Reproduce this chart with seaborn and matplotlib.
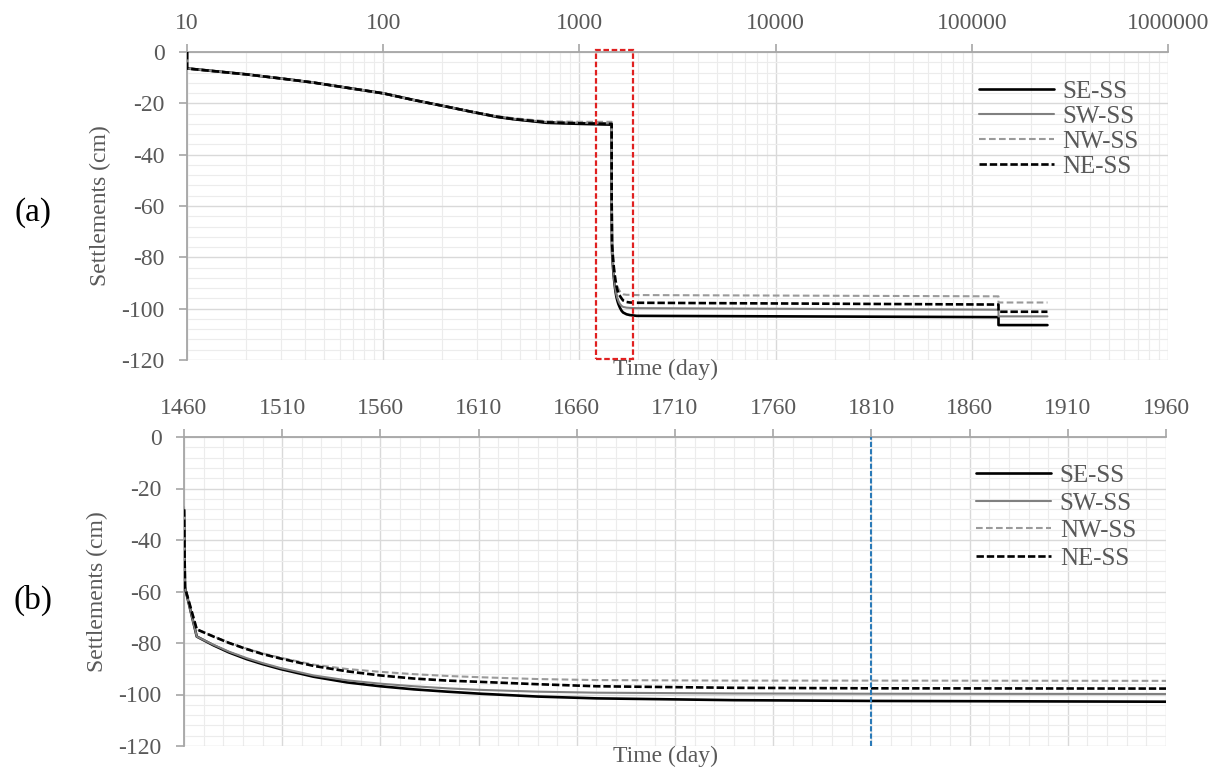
import numpy as np
import pandas as pd
import seaborn as sns
import matplotlib
matplotlib.use("Agg")
import matplotlib.pyplot as plt
from matplotlib.ticker import FixedLocator, MultipleLocator, LogLocator, NullFormatter
from matplotlib.patches import Rectangle

# Settlement histories of the four monitoring points (cm) against time (day)
days = [10, 10, 20, 30, 44, 65, 100, 143, 211, 278, 380, 462, 684, 1000, 1460,
        1460.5, 1466.5, 1475, 1483, 1492, 1500, 1509, 1526, 1543, 1560, 1577, 1594,
        1611, 1640, 1670, 1740, 1810, 1960, 136800, 136800, 243000]
se_ss = [0, -6.4, -8.7, -10.3, -11.9, -13.9, -16.1, -18.7, -21.3, -23.2, -25.3, -26.2, -27.6, -28.0, -28.3,
         -58.5, -77.5, -80.9, -83.7, -86.3, -88.2, -90.1, -93.1, -95.3, -96.8, -98.0, -98.9,
         -99.7, -100.8, -101.5, -102.2, -102.5, -102.8, -103.3, -106.4, -106.4]
sw_ss = [0, -6.4, -8.7, -10.3, -11.9, -13.9, -16.1, -18.7, -21.3, -23.2, -25.1, -26.0, -27.3, -27.6, -27.8,
         -58.5, -77.5, -80.7, -83.4, -85.9, -87.8, -89.7, -92.6, -94.5, -95.8, -96.8, -97.6,
         -98.2, -98.9, -99.3, -99.6, -99.7, -99.8, -100.4, -103.0, -103.0]
nw_ss = [0, -6.4, -8.7, -10.3, -11.9, -13.9, -16.1, -18.7, -21.3, -23.2, -25.0, -25.8, -27.0, -27.2, -27.2,
         -58.5, -74.7, -77.4, -79.9, -82.2, -84.0, -85.7, -88.4, -90.1, -91.2, -92.1, -92.8,
         -93.3, -94.0, -94.4, -94.6, -94.6, -94.7, -95.2, -97.6, -97.6]
ne_ss = [0, -6.4, -8.7, -10.3, -11.9, -13.9, -16.1, -18.7, -21.3, -23.2, -25.2, -26.1, -27.4, -27.8, -28.0,
         -58.5, -74.7, -77.5, -80.0, -82.4, -84.3, -86.0, -88.9, -91.0, -92.6, -93.8, -94.6,
         -95.1, -96.0, -96.8, -97.4, -97.6, -97.7, -98.4, -101.2, -101.2]

series_names = ["SE-SS", "SW-SS", "NW-SS", "NE-SS"]
series_values = [se_ss, sw_ss, nw_ss, ne_ss]

log_ticks = [10, 100, 1000, 10000, 100000, 1000000]
log_tick_labels = ["10", "100", "1000", "10000", "100000", "1000000"]
lin_ticks = list(range(1460, 1961, 50))
y_ticks = list(range(-120, 1, 20))

highlight_span = (1216, 1880)   # time window enlarged in panel (b)
marker_day = 1810

styles = {
    "SE-SS": dict(color="black", linewidth=1.9, linestyle="-"),
    "SW-SS": dict(color="#808080", linewidth=1.5, linestyle="-"),
    "NW-SS": dict(color="#9a9a9a", linewidth=1.5, linestyle=(0, (3.2, 1.6))),
    "NE-SS": dict(color="black", linewidth=1.9, linestyle=(0, (2.8, 1.1))),
}

sns.set_theme(style="white")
plt.rcParams["font.family"] = ["Liberation Serif", "DejaVu Serif"]

TXT = "#595959"
SPINE = "#a6a6a6"
FS = 17

df = pd.DataFrame({"day": np.tile(days, len(series_names)),
                   "settlement": np.concatenate(series_values),
                   "series": np.repeat(series_names, len(days))})

fig = plt.figure(figsize=(12.25, 7.74), dpi=100)
ax1 = fig.add_axes([187 / 1225, 1 - 360 / 774, 981 / 1225, 308 / 774])
ax2 = fig.add_axes([184 / 1225, 1 - 746 / 774, 982 / 1225, 309 / 774])

for ax in (ax1, ax2):
    for name in series_names:
        sub = df[df["series"] == name]
        sns.lineplot(data=sub, x="day", y="settlement", ax=ax, estimator=None,
                     sort=False, label=name, zorder=3, **styles[name])

# Panel (a): logarithmic time axis
ax1.set_xscale("log")
ax1.set_xlim(10, 1000000)
ax1.xaxis.set_major_locator(FixedLocator(log_ticks))
ax1.set_xticklabels(log_tick_labels)
ax1.xaxis.set_minor_locator(LogLocator(base=10, subs=np.arange(2, 10)))
ax1.xaxis.set_minor_formatter(NullFormatter())

# Panel (b): linear time axis
ax2.set_xlim(1460, 1960)
ax2.xaxis.set_major_locator(FixedLocator(lin_ticks))
ax2.set_xticklabels([str(t) for t in lin_ticks])
ax2.xaxis.set_minor_locator(MultipleLocator(10))

for ax in (ax1, ax2):
    ax.set_ylim(-120, 0)
    ax.yaxis.set_major_locator(FixedLocator(y_ticks))
    ax.set_yticklabels([str(t) for t in y_ticks])
    ax.yaxis.set_minor_locator(MultipleLocator(4))
    ax.xaxis.tick_top()
    ax.xaxis.set_label_position("bottom")
    ax.grid(which="major", color="#d9d9d9", linewidth=1.0)
    ax.grid(which="minor", color="#ececec", linewidth=0.8)
    ax.set_axisbelow(True)
    for side in ("right", "bottom"):
        ax.spines[side].set_visible(False)
    for side in ("top", "left"):
        ax.spines[side].set_color(SPINE)
        ax.spines[side].set_linewidth(1.3)
    ax.tick_params(axis="both", which="major", colors=SPINE, labelcolor=TXT,
                   labelsize=FS, length=6, width=1.2)
    ax.tick_params(axis="x", which="major", pad=7, direction="out")
    ax.tick_params(axis="y", which="major", pad=10, left=True, direction="out")
    ax.tick_params(which="minor", length=0)
    ax.set_xlabel("Time (day)", fontsize=FS, color=TXT)
    ax.set_ylabel("Settlements (cm)", fontsize=FS, color=TXT)
    ax.yaxis.set_label_coords(-0.077, 0.5)
    ax.patch.set_alpha(0)

ax1.xaxis.set_label_coords(0.488, 0.004)
ax2.xaxis.set_label_coords(0.49, 0.0)

for ax, ytop, spacing in ((ax1, 0.907, 0.1), (ax2, 0.911, 0.2)):
    handles, labels = ax.get_legend_handles_labels()
    ax.legend(handles, labels, loc="upper left", bbox_to_anchor=(0.807, ytop),
              frameon=False, fontsize=18, handlelength=3.0, handletextpad=0.33,
              labelspacing=spacing, borderpad=0, borderaxespad=0, labelcolor=TXT)

# Window of panel (a) enlarged in panel (b)
ax1.add_patch(Rectangle((highlight_span[0], -119.6), highlight_span[1] - highlight_span[0], 120.4,
                        fill=False, edgecolor="#e02020", linewidth=1.6,
                        linestyle=(0, (2.5, 1.2)), clip_on=False, zorder=5))

ax2.axvline(marker_day, color="#2a7ab8", linewidth=1.5, linestyle=(0, (2.5, 1.0)), zorder=5)

fig.text(33 / 1225, 1 - 213 / 774, "(a)", fontsize=24, ha="center", va="center", color="black")
fig.text(33 / 1225, 1 - 600 / 774, "(b)", fontsize=24, ha="center", va="center", color="black")

fig.savefig("out.png", dpi=100, facecolor="white")
